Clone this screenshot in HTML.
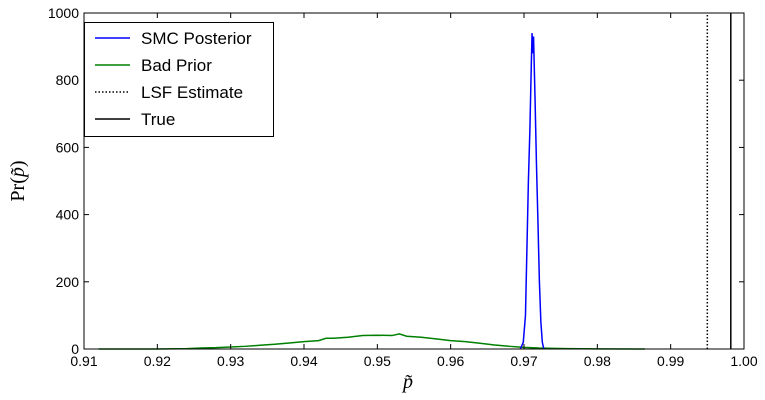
<!DOCTYPE html>
<html><head><meta charset="utf-8"><style>
body{margin:0;background:#fff}
svg{display:block;font-family:"Liberation Sans",sans-serif}
</style></head><body>
<svg id="chart" width="765" height="400">
<rect width="765" height="400" fill="#fff"/>
<g id="marks"></g>
<g id="axes"></g>
<rect x="84" y="13" width="660" height="336" fill="none" stroke="#000" stroke-width="1"/>
<g>
<rect x="84.5" y="22.5" width="189" height="114" fill="#fff" stroke="#000"/>
<line x1="95" y1="38" x2="130" y2="38" stroke="#0000ff" stroke-width="1.5"/>
<text x="141" y="44" font-size="17">SMC Posterior</text>
<line x1="95" y1="65" x2="130" y2="65" stroke="#008000" stroke-width="1.5"/>
<text x="141" y="71" font-size="17">Bad Prior</text>
<line x1="95" y1="92" x2="130" y2="92" stroke="#000" stroke-width="1.5" stroke-dasharray="1.5,2"/>
<text x="141" y="98" font-size="17">LSF Estimate</text>
<line x1="95" y1="119" x2="130" y2="119" stroke="#000" stroke-width="1.5"/>
<text x="141" y="125" font-size="17">True</text>
</g>
<text transform="translate(24,181) rotate(-90)" text-anchor="middle" font-size="20" font-family="Liberation Serif,serif">Pr(<tspan font-style="italic">p̃</tspan>)</text>
<text x="408" y="388" text-anchor="middle" font-size="20" font-style="italic" font-family="Liberation Serif,serif">p̃</text>
</svg>
<script>
const xTicks=[0.91,0.92,0.93,0.94,0.95,0.96,0.97,0.98,0.99,1.00];
const xTickLabels=["0.91","0.92","0.93","0.94","0.95","0.96","0.97","0.98","0.99","1.00"];
const yTicks=[0,200,400,600,800,1000];
const yTickLabels=["0","200","400","600","800","1000"];
const smcX=[0.9695,0.9699,0.9702,0.9704,0.9706,0.9708,0.9710,0.9711,0.9712,0.9713,0.9715,0.9717,0.9719,0.9721,0.9723,0.9725,0.9727];
const smcY=[0,20,100,300,500,650,850,940,880,930,750,550,380,200,80,20,0];
const priorX=[0.912,0.916,0.920,0.924,0.926,0.928,0.930,0.932,0.934,0.936,0.938,0.940,0.942,0.943,0.944,0.946,0.948,0.950,0.952,0.953,0.954,0.956,0.958,0.960,0.962,0.964,0.966,0.968,0.970,0.972,0.974,0.976,0.980,0.9865];
const priorY=[0,0,0,1,3,4,6,8,11,14,18,22,25,32,32,35,40,41,40,45,38,35,30,25,22,17,12,8,5,3,2,1,0.5,0];
const lsfEstimate=[0.995];
const trueValue=[0.9982];
const X0=84,X1=744,Y0=349,Y1=13;
const xs=v=>X0+(v-0.91)/(1.0-0.91)*(X1-X0);
const ys=v=>Y0-(v-0)/(1000-0)*(Y0-Y1);
const NS="http://www.w3.org/2000/svg";
const marks=document.getElementById('marks'),axes=document.getElementById('axes');
function mk(tag,attrs,parent){const e=document.createElementNS(NS,tag);for(const k in attrs)e.setAttribute(k,attrs[k]);parent.appendChild(e);return e;}
xTicks.forEach((t,i)=>{const x=xs(t);
mk('line',{x1:x,x2:x,y1:Y0,y2:Y0-5,stroke:'#000'},axes);
mk('line',{x1:x,x2:x,y1:Y1,y2:Y1+5,stroke:'#000'},axes);
const tx=mk('text',{x:x,y:Y0+17,'text-anchor':'middle','font-size':14},axes);tx.textContent=xTickLabels[i];

});
yTicks.forEach((t,i)=>{const y=ys(t);
mk('line',{x1:X0,x2:X0+5,y1:y,y2:y,stroke:'#000'},axes);
mk('line',{x1:X1,x2:X1-5,y1:y,y2:y,stroke:'#000'},axes);
const tx=mk('text',{x:X0-5,y:y+5,'text-anchor':'end','font-size':14},axes);tx.textContent=yTickLabels[i];

});
const pg=mk('polyline',{points:priorX.map((x,i)=>xs(x)+','+ys(priorY[i])).join(' '),fill:'none',stroke:'#008000','stroke-width':1.5},marks);


const pb=mk('polyline',{points:smcX.map((x,i)=>xs(x)+','+ys(smcY[i])).join(' '),fill:'none',stroke:'#0000ff','stroke-width':1.5},marks);


const l1=mk('line',{x1:xs(lsfEstimate[0]),x2:xs(lsfEstimate[0]),y1:Y0,y2:Y1,stroke:'#000','stroke-width':1.5,'stroke-dasharray':'1.5,2'},marks);


const l2=mk('line',{x1:xs(trueValue[0]),x2:xs(trueValue[0]),y1:Y0,y2:Y1,stroke:'#000','stroke-width':1.5},marks);


</script>
</body></html>
